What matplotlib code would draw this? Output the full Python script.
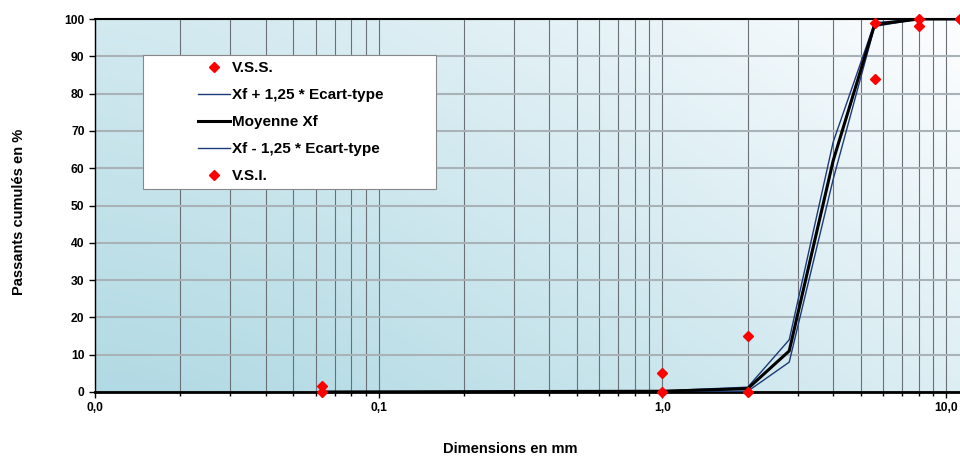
import numpy as np
import matplotlib
matplotlib.use("Agg")
import matplotlib.pyplot as plt
from matplotlib.ticker import LogLocator, NullFormatter
from matplotlib.patches import Rectangle

plt.rcParams['font.family'] = ['Liberation Sans', 'DejaVu Sans']
plt.rcParams['font.weight'] = 'bold'

sizes = [0.063, 1.0, 2.0, 2.8, 4.0, 5.6, 8.0, 11.2]
upper = [0.0, 0.3, 1.3, 14.0, 67.0, 99.0, 100.0, 100.0]
mean = [0.0, 0.2, 0.9, 11.0, 62.0, 98.5, 100.0, 100.0]
lower = [0.0, 0.1, 0.2, 8.0, 57.0, 98.0, 100.0, 100.0]

spec_sizes = [0.063, 1.0, 2.0, 5.6, 8.0, 11.2]
vss = [1.5, 5.0, 15.0, 99.0, 100.0, 100.0]
vsi = [0.0, 0.0, 0.0, 84.0, 98.0, 100.0]

xticks = [0.01, 0.1, 1.0, 10.0]
xticklabels = ['0,0', '0,1', '1,0', '10,0']
yticks = list(range(0, 101, 10))

fig = plt.figure(figsize=(9.6, 4.57), dpi=100)
ax = fig.add_axes([95/960, 1-392/457, (960-95)/960, (392-19)/457])
ax.set_xscale('log')
ax.set_xlim(0.01, 11.2)
ax.set_ylim(0, 100)

# gradient background
g = np.linspace(0, 1, 300)
X, Y = np.meshgrid(g, g)
t = np.clip(0.6 * X**1.4 + 0.45 * Y, 0, 1)
c0 = np.array([178, 218, 228]) / 255
c1 = np.array([250, 252, 254]) / 255
img = c0[None, None, :] * (1 - t[..., None]) + c1[None, None, :] * t[..., None]
ax.imshow(img, extent=[0, 1, 0, 1], transform=ax.transAxes, origin='lower',
          aspect='auto', zorder=0)

ax.set_xticks(xticks)
ax.set_xticklabels(xticklabels)
ax.xaxis.set_minor_locator(LogLocator(base=10, subs=np.arange(2, 10)))
ax.xaxis.set_minor_formatter(NullFormatter())
ax.set_yticks(yticks)
ax.grid(True, which='both', axis='x', color='#6a7075', lw=0.8, zorder=1)
ax.grid(True, which='major', axis='y', color='#a9b3b7', lw=1.5, zorder=1)

ax.tick_params(axis='both', which='major', labelsize=8.7, length=4, width=1, direction='out')
ax.tick_params(axis='x', which='minor', length=3, width=1, direction='out')
for lab in ax.get_xticklabels() + ax.get_yticklabels():
    lab.set_fontweight('bold')

for s in ['top', 'right']:
    ax.spines[s].set_visible(False)
ax.spines['left'].set_linewidth(1.0)
ax.spines['bottom'].set_linewidth(2.0)
ax.axhline(100, color='black', lw=1.5, zorder=2, clip_on=False)

navy = '#1c3a78'
h1, = ax.plot(spec_sizes, vss, linestyle='none', marker='D', ms=5, color='#ff0000',
              label='V.S.S.', zorder=5, clip_on=False)
h2, = ax.plot(sizes, upper, color=navy, lw=1.0, label='Xf + 1,25 * Ecart-type', zorder=3)
h3, = ax.plot(sizes, mean, color='black', lw=2.2, label='Moyenne Xf', zorder=4)
h4, = ax.plot(sizes, lower, color=navy, lw=1.0, label='Xf - 1,25 * Ecart-type', zorder=3)
h5, = ax.plot(spec_sizes, vsi, linestyle='none', marker='D', ms=5, color='#ff0000',
              label='V.S.I.', zorder=5, clip_on=False)

# legend frame
frame = Rectangle((143/960, 1-189/457), (436-143)/960, (189-55)/457,
                  transform=fig.transFigure, facecolor='white', edgecolor='#888888',
                  lw=0.8, zorder=6)
ax.add_artist(frame)
frame.set_clip_on(False)

leg = ax.legend(handles=[h1, h2, h3, h4, h5], loc='upper left',
                bbox_to_anchor=((198-95)/865, (392-61)/373),
                prop={'size': 11, 'weight': 'bold'}, frameon=False,
                handlelength=2.1, labelspacing=0.85, borderpad=0,
                handletextpad=0.1, borderaxespad=0)
leg.set_zorder(7)

fig.text(19/960, 1-212/457, 'Passants cumulés en %', rotation=90, ha='center', va='center',
         fontsize=10.5, fontweight='bold')
fig.text(510/960, 1-449/457, 'Dimensions en mm', ha='center', va='center',
         fontsize=10.5, fontweight='bold')

fig.savefig('out.png', dpi=100)
